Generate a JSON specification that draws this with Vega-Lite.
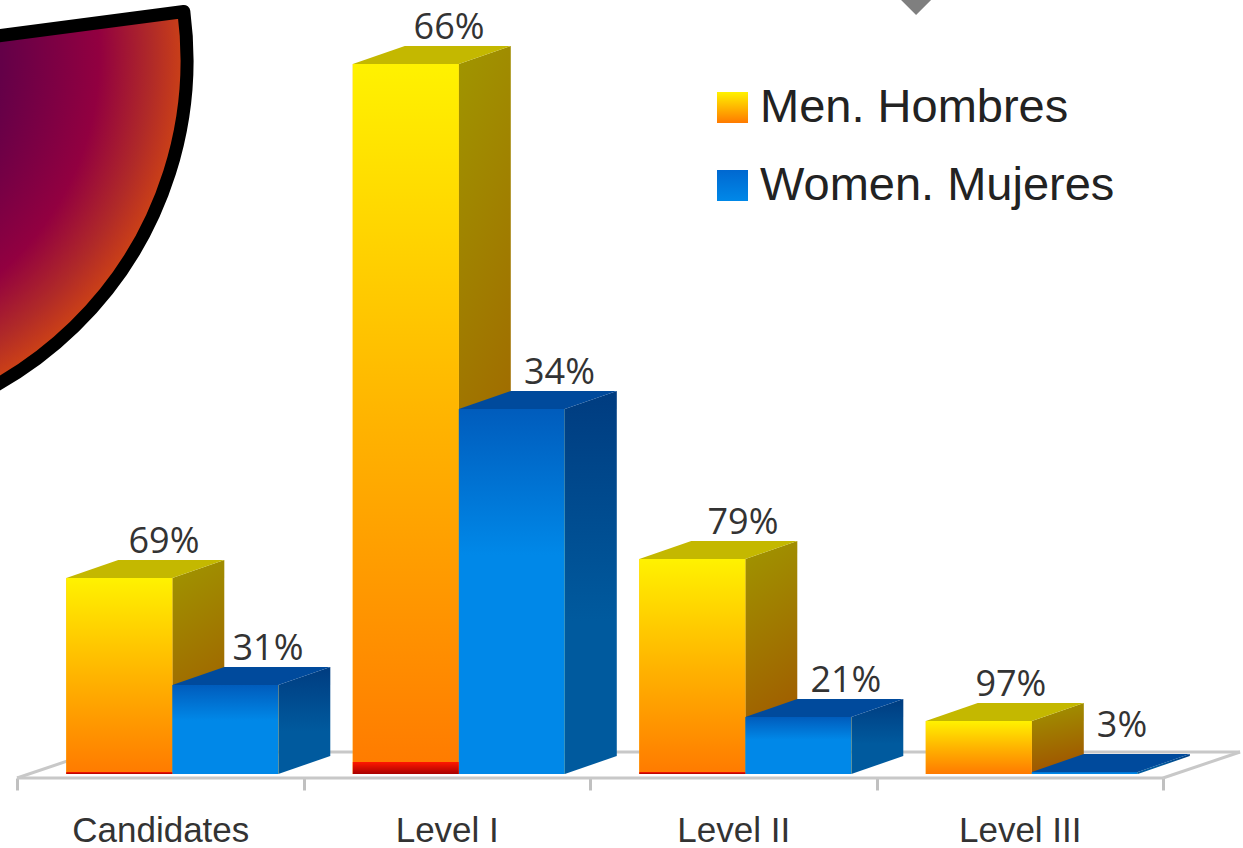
{
  "$schema": "https://vega.github.io/schema/vega-lite/v6.json",
  "width": 1243,
  "height": 848,
  "padding": 0,
  "autosize": {"type": "none"},
  "background": "white",
  "config": {"view": {"stroke": null}},
  "datasets": {
    "rows": [
      {"category": "Candidates", "series": "Men. Hombres", "count": 196, "share": "69%", "sliver": 2},
      {"category": "Candidates", "series": "Women. Mujeres", "count": 89, "share": "31%", "sliver": 0},
      {"category": "Level I", "series": "Men. Hombres", "count": 710, "share": "66%", "sliver": 12},
      {"category": "Level I", "series": "Women. Mujeres", "count": 365, "share": "34%", "sliver": 0},
      {"category": "Level II", "series": "Men. Hombres", "count": 215, "share": "79%", "sliver": 2},
      {"category": "Level II", "series": "Women. Mujeres", "count": 57, "share": "21%", "sliver": 0},
      {"category": "Level III", "series": "Men. Hombres", "count": 53, "share": "97%", "sliver": 0},
      {"category": "Level III", "series": "Women. Mujeres", "count": 2, "share": "3%", "sliver": 0}
    ]
  },
  "data": {"name": "rows"},
  "transform": [
    {"calculate": "indexof(['Candidates','Level I','Level II','Level III'], datum.category)", "as": "slot"},
    {"calculate": "datum.series === 'Men. Hombres' ? 0 : 1", "as": "side"},
    {"calculate": "datum.slot + 0.172 + datum.side * 0.37", "as": "front"},
    {"calculate": "datum.front + 0.37", "as": "frontEnd"},
    {"calculate": "[0, 1]", "as": "depth"},
    {"flatten": ["depth"]},
    {"calculate": "datum.front + datum.depth * 0.1815", "as": "faceStart"},
    {"calculate": "datum.frontEnd + datum.depth * 0.1815", "as": "faceEnd"},
    {"calculate": "datum.count + datum.depth * 18", "as": "faceTop"},
    {"calculate": "datum.depth * 18", "as": "faceBase"},
    {"calculate": "datum.front + 0.185 + [[0.156, 0.149], [0.151, 0.1665], [0.177, 0.166], [0.112, 0.13]][datum.slot][datum.side]", "as": "labelAt"},
    {"calculate": "datum.count + 25 + (datum.count < 5 ? 10 : 0)", "as": "labelHeight"}
  ],
  "layer": [
    {
      "data": {"values": [{"a": 0, "b": 4, "c": -4, "d": -4}, {"a": 4, "b": 4.269, "c": -4, "d": 22}, {"a": 0.269, "b": 4.269, "c": 22, "d": 22}, {"a": 0, "b": 0.269, "c": -4, "d": 22}]},
      "mark": {"type": "rule", "color": "#c8c8c8", "strokeWidth": 3},
      "encoding": {
        "x": {
          "field": "a", "type": "quantitative",
          "scale": {"domain": [-0.05934, 4.27923], "nice": false, "zero": false},
          "axis": {
            "title": null, "grid": false, "domain": false, "offset": -70,
            "values": [0, 0.5, 1, 1.5, 2, 2.5, 3, 3.5, 4],
            "labelExpr": "datum.value % 1 ? ['Candidates','Level I','Level II','Level III'][floor(datum.value)] : ''",
            "labelFont": "Liberation Sans", "labelFontSize": 35, "labelColor": "#333333", "labelLimit": 400,
            "labelPadding": 23, "labelOverlap": false, "labelBound": false, "labelFlush": false,
            "tickSize": 12, "tickWidth": 3, "tickColor": "#c0c0c0",
            "tickOpacity": {"condition": {"test": "datum.value % 1 === 0", "value": 1}, "value": 0}
          }
        },
        "x2": {"field": "b"},
        "y": {"field": "c", "type": "quantitative", "axis": null, "scale": {"domain": [-74, 774], "nice": false, "zero": false}},
        "y2": {"field": "d"}
      }
    },
    {
      "data": {"values": [{"note": "fan"}]},
      "mark": {
        "type": "arc", "clip": true, "radius": 372, "theta": 1.44, "theta2": 3.3,
        "stroke": "#000000", "strokeWidth": 13, "strokeJoin": "round",
        "color": {
          "gradient": "radial", "x1": 0.135, "y1": 0.116, "r1": 0, "x2": 0.135, "y2": 0.116, "r2": 0.87,
          "stops": [
            {"offset": 0, "color": "#400050"},
            {"offset": 0.5, "color": "#640048"},
            {"offset": 0.76, "color": "#920040"},
            {"offset": 0.9, "color": "#b02a28"},
            {"offset": 1, "color": "#d04414"}
          ]
        }
      },
      "encoding": {
        "x": {"datum": -0.705, "type": "quantitative", "scale": {"domain": [-0.05934, 4.27923], "nice": false, "zero": false}},
        "y": {"datum": 714, "type": "quantitative", "scale": {"domain": [-74, 774], "nice": false, "zero": false}}
      }
    },
    {
      "data": {"values": [{"note": "marker"}]},
      "mark": {"type": "point", "shape": "diamond", "filled": true, "size": 1024, "color": "#7f7f7f", "opacity": 1, "clip": true},
      "encoding": {
        "x": {"datum": 3.138, "type": "quantitative", "scale": {"domain": [-0.05934, 4.27923], "nice": false, "zero": false}},
        "y": {"datum": 775, "type": "quantitative", "scale": {"domain": [-74, 774], "nice": false, "zero": false}}
      }
    },
    {
      "transform": [{"filter": "datum.side === 0"}],
      "mark": {
        "type": "area",
        "color": {"gradient": "linear", "x1": 0, "y1": 0, "x2": 0.15, "y2": 1, "stops": [{"offset": 0, "color": "#a09600"}, {"offset": 1, "color": "#a05400"}]}
      },
      "encoding": {
        "detail": {"field": "category"},
        "x": {"field": "faceEnd", "type": "quantitative", "scale": {"domain": [-0.05934, 4.27923], "nice": false, "zero": false}},
        "y": {"field": "faceTop", "type": "quantitative", "stack": null, "scale": {"domain": [-74, 774], "nice": false, "zero": false}},
        "y2": {"field": "faceBase"}
      }
    },
    {
      "transform": [{"filter": "datum.side === 0"}],
      "mark": {"type": "area", "orient": "horizontal", "color": "#c4b800"},
      "encoding": {
        "detail": {"field": "category"},
        "y": {"field": "faceTop", "type": "quantitative", "scale": {"domain": [-74, 774], "nice": false, "zero": false}},
        "x": {"field": "faceStart", "type": "quantitative", "stack": null, "scale": {"domain": [-0.05934, 4.27923], "nice": false, "zero": false}},
        "x2": {"field": "faceEnd"}
      }
    },
    {
      "transform": [{"filter": "datum.side === 1"}],
      "mark": {
        "type": "area",
        "color": {"gradient": "linear", "x1": 0, "y1": 0, "x2": 0, "y2": 1, "stops": [{"offset": 0, "color": "#003c80"}, {"offset": 0.6, "color": "#005a9e"}, {"offset": 1, "color": "#005a9e"}]}
      },
      "encoding": {
        "detail": {"field": "category"},
        "x": {"field": "faceEnd", "type": "quantitative", "scale": {"domain": [-0.05934, 4.27923], "nice": false, "zero": false}},
        "y": {"field": "faceTop", "type": "quantitative", "stack": null, "scale": {"domain": [-74, 774], "nice": false, "zero": false}},
        "y2": {"field": "faceBase"}
      }
    },
    {
      "transform": [{"filter": "datum.side === 1"}],
      "mark": {"type": "area", "orient": "horizontal", "color": "#004a9c"},
      "encoding": {
        "detail": {"field": "category"},
        "y": {"field": "faceTop", "type": "quantitative", "scale": {"domain": [-74, 774], "nice": false, "zero": false}},
        "x": {"field": "faceStart", "type": "quantitative", "stack": null, "scale": {"domain": [-0.05934, 4.27923], "nice": false, "zero": false}},
        "x2": {"field": "faceEnd"}
      }
    },
    {
      "transform": [{"filter": "datum.depth === 0"}],
      "mark": {"type": "rect", "color": "#ffb400"},
      "encoding": {
        "x": {"field": "front", "type": "quantitative", "scale": {"domain": [-0.05934, 4.27923], "nice": false, "zero": false}},
        "x2": {"field": "frontEnd"},
        "y": {"field": "count", "type": "quantitative", "scale": {"domain": [-74, 774], "nice": false, "zero": false}},
        "y2": {"datum": 0},
        "opacity": {
          "field": "series", "type": "nominal",
          "scale": {"domain": ["Men. Hombres", "Women. Mujeres"], "range": [1, 1]},
          "legend": {
            "title": null, "orient": "none", "legendX": 709, "legendY": 84,
            "symbolType": "square", "symbolSize": 961, "symbolStrokeWidth": 0,
            "labelFont": "Liberation Sans", "labelFontSize": 47, "labelColor": "#222222",
            "labelLimit": 500, "labelOffset": 4, "rowPadding": 30,
            "encoding": {
              "symbols": {
                "fill": {
                  "condition": {"test": "datum.value === 'Men. Hombres'", "value": {"gradient": "linear", "x1": 0, "y1": 0, "x2": 0, "y2": 1, "stops": [{"offset": 0, "color": "#fff200"}, {"offset": 1, "color": "#ff7a00"}]}},
                  "value": {"gradient": "linear", "x1": 0, "y1": 0, "x2": 0, "y2": 1, "stops": [{"offset": 0, "color": "#0068d0"}, {"offset": 1, "color": "#0088e8"}]}
                }
              }
            }
          }
        }
      }
    },
    {
      "transform": [{"filter": "datum.depth === 0 && datum.side === 0"}],
      "mark": {
        "type": "rect",
        "color": {"gradient": "linear", "x1": 0, "y1": 0, "x2": 0, "y2": 1, "stops": [{"offset": 0, "color": "#fff200"}, {"offset": 0.5, "color": "#ffb400"}, {"offset": 1, "color": "#ff7a00"}]}
      },
      "encoding": {
        "x": {"field": "front", "type": "quantitative", "scale": {"domain": [-0.05934, 4.27923], "nice": false, "zero": false}},
        "x2": {"field": "frontEnd"},
        "y": {"field": "count", "type": "quantitative", "scale": {"domain": [-74, 774], "nice": false, "zero": false}},
        "y2": {"datum": 0}
      }
    },
    {
      "transform": [{"filter": "datum.depth === 0 && datum.side === 1"}],
      "mark": {
        "type": "rect",
        "color": {"gradient": "linear", "x1": 0, "y1": 0, "x2": 0, "y2": 1, "stops": [{"offset": 0, "color": "#005cbc"}, {"offset": 0.4, "color": "#0088e8"}, {"offset": 1, "color": "#0088e8"}]}
      },
      "encoding": {
        "x": {"field": "front", "type": "quantitative", "scale": {"domain": [-0.05934, 4.27923], "nice": false, "zero": false}},
        "x2": {"field": "frontEnd"},
        "y": {"field": "count", "type": "quantitative", "scale": {"domain": [-74, 774], "nice": false, "zero": false}},
        "y2": {"datum": 0}
      }
    },
    {
      "transform": [{"filter": "datum.depth === 0 && datum.sliver > 0"}],
      "mark": {
        "type": "rect",
        "color": {"gradient": "linear", "x1": 0, "y1": 0, "x2": 0, "y2": 1, "stops": [{"offset": 0, "color": "#ff1800"}, {"offset": 1, "color": "#a80000"}]}
      },
      "encoding": {
        "x": {"field": "front", "type": "quantitative", "scale": {"domain": [-0.05934, 4.27923], "nice": false, "zero": false}},
        "x2": {"field": "frontEnd"},
        "y": {"field": "sliver", "type": "quantitative", "scale": {"domain": [-74, 774], "nice": false, "zero": false}},
        "y2": {"datum": 0}
      }
    },
    {
      "transform": [{"filter": "datum.depth === 0"}],
      "mark": {"type": "text", "font": "Open Sans", "fontSize": 36, "color": "#333333", "baseline": "alphabetic", "align": "center"},
      "encoding": {
        "x": {"field": "labelAt", "type": "quantitative", "scale": {"domain": [-0.05934, 4.27923], "nice": false, "zero": false}},
        "y": {"field": "labelHeight", "type": "quantitative", "scale": {"domain": [-74, 774], "nice": false, "zero": false}},
        "text": {"field": "share", "type": "nominal"}
      }
    }
  ]
}
